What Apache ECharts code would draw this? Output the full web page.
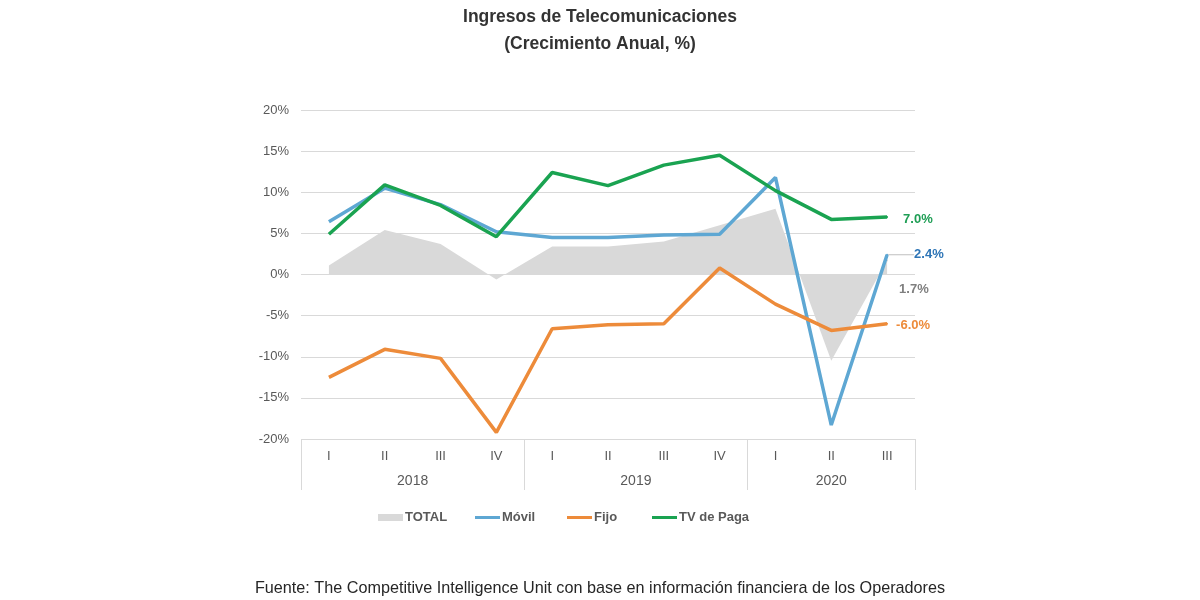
<!DOCTYPE html>
<html>
<head>
<meta charset="utf-8">
<script src="https://cdn.jsdelivr.net/npm/echarts@6/dist/echarts.min.js"></script>
<style>
html,body{margin:0;padding:0;background:#fff;}
#chart{width:1200px;height:600px;}
</style>
</head>
<body>
<div id="chart"></div>
<script>
// ---- data ----
var categories = ['I','II','III','IV','I','II','III','IV','I','II','III'];
var years = ['2018','2019','2020'];
var yearSizes = [4, 4, 3];
var total = [1.1, 5.4, 3.7, -0.6, 3.4, 3.4, 4.0, 6.0, 8.0, -10.5, 1.7];
var movil = [6.4, 10.5, 8.5, 5.2, 4.5, 4.5, 4.8, 4.9, 11.8, -18.3, 2.4];
var fijo = [-12.5, -9.1, -10.2, -19.2, -6.6, -6.1, -6.0, 0.8, -3.6, -6.8, -6.0];
var tv = [4.9, 10.9, 8.4, 4.6, 12.4, 10.8, 13.3, 14.5, 10.2, 6.7, 7.0];
var yTicks = [-20, -15, -10, -5, 0, 5, 10, 15, 20];

// year group centres on a 0..N scale
var yearCenters = {};
var acc = 0;
yearSizes.forEach(function (n, i) { yearCenters[(acc + n / 2).toFixed(2)] = years[i]; acc += n; });
var N = categories.length;

var narrow = "'Liberation Sans Narrow', 'Liberation Sans', Arial, sans-serif";
var sans = "'Liberation Sans', Arial, sans-serif";
var chart = echarts.init(document.getElementById('chart'));

function withEndLabel(arr, color, label) {
  return arr.map(function (v, i) {
    if (i === arr.length - 1) {
      return { value: v, symbol: 'circle', symbolSize: 2, itemStyle: { color: color }, label: label };
    }
    return { value: v, symbol: 'none' };
  });
}
function fmt(p) { return p.value.toFixed(1) + '%'; }
var lineIcon = 'path://M0,0L25,0L25,3L0,3Z';
var legendText = { fontFamily: narrow, fontSize: 13, fontWeight: 'bold', color: '#595959', padding: [0, 0, 0, -3] };

var option = {
  backgroundColor: '#ffffff',
  animation: false,
  title: [{
    text: 'Ingresos de Telecomunicaciones\n(Crecimiento Anual, %)',
    left: 'center', top: 4, padding: 0,
    textStyle: { fontFamily: sans, fontSize: 17.5, fontWeight: 'bold', color: '#333333', lineHeight: 27 }
  }, {
    text: 'Fuente: The Competitive Intelligence Unit con base en información financiera de los Operadores',
    left: 'center', top: 581, padding: 0,
    textStyle: { fontFamily: sans, fontSize: 16.2, fontWeight: 'normal', color: '#262626' }
  }],
  legend: [
    { data: [{ name: 'TOTAL', icon: 'rect' }], left: 373, top: 506, itemWidth: 25, itemHeight: 7, textStyle: legendText },
    { data: [{ name: 'Móvil', icon: lineIcon }], left: 470, top: 506, itemWidth: 25, itemHeight: 7, textStyle: legendText },
    { data: [{ name: 'Fijo', icon: lineIcon }], left: 562, top: 506, itemWidth: 25, itemHeight: 7, textStyle: legendText },
    { data: [{ name: 'TV de Paga', icon: lineIcon }], left: 647, top: 506, itemWidth: 25, itemHeight: 7, textStyle: legendText }
  ],
  grid: { left: 301, right: 285, top: 110, bottom: 161, containLabel: false },
  xAxis: [{
    type: 'category', data: categories, boundaryGap: true, position: 'bottom',
    axisLine: { show: false }, axisTick: { show: false },
    axisLabel: { color: '#595959', fontFamily: narrow, fontSize: 13, margin: 11 }
  }, {
    type: 'value', min: 0, max: N, interval: 0.5, position: 'bottom',
    axisLine: { show: false }, axisTick: { show: false }, splitLine: { show: false },
    axisLabel: {
      color: '#595959', fontFamily: narrow, fontSize: 14, margin: 35,
      showMinLabel: true, showMaxLabel: true,
      formatter: function (v) { return yearCenters[v.toFixed(2)] || ''; }
    }
  }, {
    type: 'value', min: 0, max: N, interval: 4, position: 'bottom',
    axisLine: { show: false }, splitLine: { show: false },
    axisTick: { show: true, length: 51, inside: false, lineStyle: { color: '#d9d9d9', width: 1 } },
    axisLabel: { show: false }
  }],
  yAxis: {
    type: 'value', min: yTicks[0], max: yTicks[yTicks.length - 1], interval: 5,
    axisLine: { show: false }, axisTick: { show: false },
    splitLine: { lineStyle: { color: '#d9d9d9', width: 1 } },
    axisLabel: { formatter: '{value}%', color: '#595959', fontFamily: sans, fontSize: 13, margin: 12 }
  },
  series: [{
    name: 'TOTAL', type: 'line', xAxisIndex: 0, showSymbol: true,
    data: withEndLabel(total, '#d9d9d9', { show: true, position: 'right', distance: 11, offset: [0, 29],
      formatter: fmt, color: '#7f7f7f', fontFamily: narrow, fontSize: 13, fontWeight: 'bold' }),
    lineStyle: { width: 0, color: '#d9d9d9' }, itemStyle: { color: '#d9d9d9' },
    areaStyle: { color: '#d9d9d9', opacity: 1 }, z: 1
  }, {
    name: 'Móvil', type: 'line', xAxisIndex: 0, showSymbol: true,
    data: withEndLabel(movil, '#5ea7d3', { show: true, position: 'right', distance: 5,
      formatter: fmt, color: '#2e75b6', fontFamily: narrow, fontSize: 13, fontWeight: 'bold' }),
    labelLayout: { dx: 21, dy: 0 },
    labelLine: { show: true, lineStyle: { color: '#bfbfbf', width: 1 } },
    lineStyle: { width: 3.5, color: '#5ea7d3' }, itemStyle: { color: '#5ea7d3' }, z: 2
  }, {
    name: 'Fijo', type: 'line', xAxisIndex: 0, showSymbol: true,
    data: withEndLabel(fijo, '#ed8b3a', { show: true, position: 'right', distance: 8, offset: [0, 2],
      formatter: fmt, color: '#ed8b3a', fontFamily: narrow, fontSize: 13, fontWeight: 'bold' }),
    lineStyle: { width: 3.5, color: '#ed8b3a' }, itemStyle: { color: '#ed8b3a' }, z: 3
  }, {
    name: 'TV de Paga', type: 'line', xAxisIndex: 0, showSymbol: true,
    data: withEndLabel(tv, '#1aa351', { show: true, position: 'right', distance: 15, offset: [0, 2],
      formatter: fmt, color: '#1f9e55', fontFamily: narrow, fontSize: 13, fontWeight: 'bold' }),
    lineStyle: { width: 3.5, color: '#1aa351' }, itemStyle: { color: '#1aa351' }, z: 4
  }]
};
chart.setOption(option);
</script>
</body>
</html>
